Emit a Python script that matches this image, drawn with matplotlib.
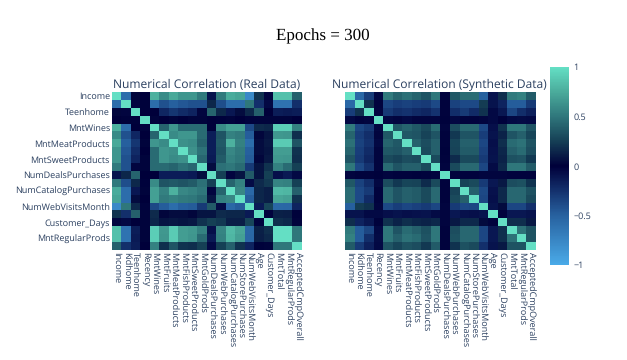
import numpy as np
import matplotlib
matplotlib.use("Agg")
import matplotlib.pyplot as plt
from matplotlib.colors import LinearSegmentedColormap

plt.rcParams["text.hinting"] = "no_hinting"
plt.rcParams["text.hinting_factor"] = 1

labels = ["Income","Kidhome","Teenhome","Recency","MntWines","MntFruits","MntMeatProducts",
          "MntFishProducts","MntSweetProducts","MntGoldProds","NumDealsPurchases","NumWebPurchases",
          "NumCatalogPurchases","NumStorePurchases","NumWebVisitsMonth","Age","Customer_Days",
          "MntTotal","MntRegularProds","AcceptedCmpOverall"]
y_labels = ["Income","Teenhome","MntWines","MntMeatProducts","MntSweetProducts","NumDealsPurchases",
            "NumCatalogPurchases","NumWebVisitsMonth","Customer_Days","MntRegularProds"]
y_ticks = [0,2,4,6,8,10,12,14,16,18]

real_upper = [
 [1,-.58,.03,0,.78,.6,.74,.65,.65,.52,-.1,.52,.75,.72,-.78,.2,-.03,.85,.85,.4],
 [1,-.03,.01,-.58,-.42,-.5,-.45,-.42,-.42,.15,-.4,-.58,-.58,.5,-.25,-.05,-.62,-.62,-.25],
 [1,.01,0,-.2,-.28,-.22,-.18,-.03,.42,.16,-.12,.05,.16,.4,0,-.15,-.14,-.15],
 [1,.02,0,.02,0,.02,.02,0,-.01,.02,0,-.02,.02,.02,.02,.02,0],
 [1,.42,.65,.45,.45,.45,0,.6,.7,.7,-.38,.17,.15,.92,.92,.55],
 [1,.6,.65,.65,.45,-.15,.35,.55,.52,-.48,.03,.08,.66,.65,.18],
 [1,.62,.6,.42,-.15,.37,.78,.55,-.58,.05,.1,.9,.9,.35],
 [1,.63,.48,-.15,.35,.58,.52,-.5,.05,.08,.68,.68,.2],
 [1,.43,-.14,.38,.55,.5,-.47,.03,.1,.66,.65,.18],
 [1,.05,.47,.5,.45,-.3,.08,.2,.55,.45,.25],
 [1,.25,-.03,.08,.38,.08,.25,-.08,-.13,-.05],
 [1,.42,.55,-.06,.17,.22,.57,.55,.25],
 [1,.58,-.55,.15,.12,.82,.8,.4],
 [1,-.48,.15,.12,.72,.7,.2],
 [1,-.14,.28,-.55,-.54,-.18],
 [1,-.02,.13,.12,.01],
 [1,.18,.16,.02],
 [1,1,.5],
 [1,.5],
 [1],
]
synth_upper = [
 [1,-.55,-.32,-.05,.52,.42,.47,.42,.35,.5,-.03,.36,.46,.46,-.5,-.1,.18,.52,.55,.38],
 [1,.2,-.02,-.36,-.32,-.34,-.32,-.3,-.38,-.02,-.34,-.38,-.38,.24,-.1,-.18,-.48,-.48,-.3],
 [1,-.03,-.3,-.24,-.26,-.22,-.2,-.26,-.02,-.24,-.3,-.22,.2,-.05,-.12,-.36,-.24,-.17],
 [1,-.04,-.03,-.05,-.03,-.03,-.03,-.01,-.04,-.02,-.02,-.03,-.05,-.01,-.05,-.06,-.05],
 [1,.36,.42,.36,.3,.45,-.03,.32,.44,.44,-.38,-.08,.2,.5,.5,.35],
 [1,.36,.35,.27,.35,-.02,.22,.35,.35,-.32,-.1,.14,.35,.4,.28],
 [1,.4,.32,.4,-.02,.28,.4,.4,-.36,-.08,.18,.45,.48,.34],
 [1,.3,.4,-.01,.27,.38,.38,-.33,-.09,.15,.4,.45,.32],
 [1,.3,-.02,.17,.3,.3,-.3,-.1,.14,.33,.35,.22],
 [1,-.03,.3,.44,.44,-.36,-.06,.16,.5,.5,.38],
 [1,-.02,-.02,-.02,-.03,-.03,-.03,-.02,-.02,-.02],
 [1,.27,.3,-.3,-.12,.1,.32,.33,.2],
 [1,.4,-.38,-.09,.16,.43,.43,.33],
 [1,-.36,-.08,.16,.43,.43,.3],
 [1,-.1,.04,-.36,-.36,-.25],
 [1,-.02,-.12,-.12,-.1],
 [1,.18,.18,.1],
 [1,.48,.34],
 [1,.34],
 [1],
]

def full(upper):
    n = len(upper)
    m = np.zeros((n, n))
    for i, row in enumerate(upper):
        m[i, i:] = row
        m[i:, i] = row
    return m

real = full(real_upper)
synth = full(synth_upper)

cmap = LinearSegmentedColormap.from_list("bal", [
    (0.0, "#4aaae8"), (0.25, "#27619f"), (0.5, "#00003a"), (0.625, "#153f55"),
    (0.75, "#2f767b"), (0.875, "#4aab9b"), (1.0, "#64dfc4")])

W, H = 627, 360
fig = plt.figure(figsize=(W/100, H/100), dpi=100, facecolor="white")
tcol = "#2a3f5f"
FONT = "Open Sans"

def axpx(x0, y0, x1, y1):
    return fig.add_axes([x0/W, 1-y1/H, (x1-x0)/W, (y1-y0)/H])

def draw(box, m, title, show_y):
    ax = axpx(*box)
    im = ax.imshow(m, cmap=cmap, vmin=-1, vmax=1, aspect="auto", interpolation="nearest")
    ax.set_xticks(range(len(labels)))
    ax.set_xticklabels(labels, rotation=-90, fontsize=6.4, color=tcol, family=FONT, ha="center", va="top")
    if show_y:
        ax.set_yticks(y_ticks)
        ax.set_yticklabels(y_labels, fontsize=6.4, color=tcol, family=FONT)
    else:
        ax.set_yticks([])
    ax.tick_params(length=0, pad=1.5)
    for s in ax.spines.values():
        s.set_visible(False)
    ax.text(0.5, 1.006, title, transform=ax.transAxes, ha="center", va="bottom",
            fontsize=8.3, color=tcol, family="Open Sans")
    return im

im = draw((112, 92, 302, 250), real, "Numerical Correlation (Real Data)", True)
draw((344.5, 92, 535, 250), synth, "Numerical Correlation (Synthetic Data)", False)

cax = axpx(550, 67, 569, 265)
cb = fig.colorbar(im, cax=cax)
cb.set_ticks([-1, -.5, 0, .5, 1])
cb.set_ticklabels(["\u22121", "\u22120.5", "0", "0.5", "1"])
cb.ax.tick_params(labelsize=6.2, labelcolor=tcol, length=0, pad=3)
for t in cb.ax.get_yticklabels():
    t.set_family(FONT)
cb.outline.set_visible(False)

fig.text(322.5/W, 1-36/H, "Epochs = 300", ha="center", va="center", fontsize=12.5,
         family="Liberation Serif", color="black")
fig.savefig("out.png", dpi=100, facecolor="white")
